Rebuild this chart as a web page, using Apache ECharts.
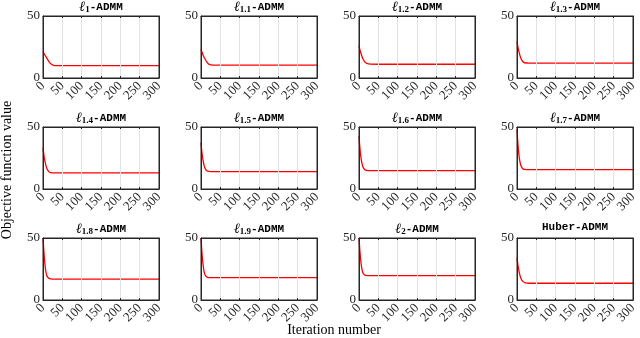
<!DOCTYPE html>
<html>
<head>
<meta charset="utf-8">
<script src="https://cdn.jsdelivr.net/npm/echarts@6/dist/echarts.min.js"></script>
<style>
  html, body { margin: 0; padding: 0; background: #fff; }
  #box { width: 640px; height: 338px; }
</style>
</head>
<body>
<div id="box"></div>
<script>
var iters = [0, 3, 6, 10, 15, 20, 30, 50, 300];

// subscript of each panel title ("" = Huber)
var names = ["1", "1.1", "1.2", "1.3", "1.4", "1.5", "1.6", "1.7", "1.8", "1.9", "2", ""];

var l1    = [21.3, 19.5, 18.0, 16.0, 13.5, 11.5, 10.0, 9.9, 9.9];
var l1_1  = [23.3, 20.5, 18.0, 15.5, 13.0, 11.2, 10.4, 10.4, 10.4];
var l1_2  = [26.0, 22.0, 19.0, 15.5, 13.0, 11.8, 11.2, 11.1, 11.1];
var l1_3  = [29.4, 24.0, 20.0, 16.0, 13.3, 12.3, 12.0, 12.0, 12.0];
var l1_4  = [33.4, 26.0, 21.0, 16.5, 14.0, 13.2, 13.0, 13.0, 13.0];
var l1_5  = [37.3, 28.0, 22.0, 17.0, 14.8, 14.2, 14.0, 14.0, 14.0];
var l1_6  = [42.7, 31.0, 23.5, 18.0, 15.5, 15.0, 14.8, 14.8, 14.8];
var l1_7  = [48.0, 34.0, 25.0, 19.0, 16.3, 15.8, 15.6, 15.6, 15.6];
var l1_8  = [50.0, 36.0, 26.0, 19.5, 17.5, 17.0, 16.8, 16.8, 16.8];
var l1_9  = [50.0, 36.0, 27.0, 20.5, 18.6, 18.1, 18.0, 18.0, 18.0];
var l2    = [50.0, 37.0, 28.0, 22.0, 20.2, 19.7, 19.6, 19.6, 19.6];
var huber = [33.8, 27.0, 22.0, 17.5, 15.0, 14.0, 13.5, 13.5, 13.5];

var allData = [l1, l1_1, l1_2, l1_3, l1_4, l1_5, l1_6, l1_7, l1_8, l1_9, l2, huber];

var xTicks = [0, 300, 50];   // min, max, interval
var yTicks = [0, 50];

var colLeft = [43, 201, 359, 517];
var rowTop = [16, 127, 238];
var pw = 116, ph = 62;

var chart = echarts.init(document.getElementById("box"));

var grids = [], xAxes = [], yAxes = [], series = [], titles = [];

function boxLine() {
  return { show: true, onZero: false, lineStyle: { color: "#262626", width: 1 } };
}
function ticks() {
  return { show: true, inside: true, length: 2, lineStyle: { color: "#262626" } };
}

for (let i = 0; i < 12; i++) {
  let c = i % 4, r = Math.floor(i / 4);
  grids.push({
    left: colLeft[c], top: rowTop[r], width: pw, height: ph,
    show: true, borderColor: "#262626", borderWidth: 1, backgroundColor: "transparent", z: 4
  });
  xAxes.push({
    type: "value", gridIndex: i, position: "bottom", min: xTicks[0], max: xTicks[1], interval: xTicks[2],
    axisLine: boxLine(), axisTick: ticks(), z: 5,
    axisLabel: { rotate: 45, margin: 6, color: "#262626", fontFamily: "Liberation Serif", fontSize: 13 },
    splitLine: { show: true, lineStyle: { color: "#e3e3e3", width: 1 } }
  });
  // top edge of the box
  xAxes.push({
    type: "value", gridIndex: i, position: "top", min: xTicks[0], max: xTicks[1], interval: xTicks[2],
    axisLine: boxLine(), axisTick: ticks(), z: 5,
    axisLabel: { show: false },
    splitLine: { show: false }
  });
  yAxes.push({
    type: "value", gridIndex: i, position: "left", min: yTicks[0], max: yTicks[1], interval: 50,
    axisLine: boxLine(), axisTick: { show: false }, z: 5,
    axisLabel: { margin: 3, color: "#262626", fontFamily: "Liberation Serif", fontSize: 13 },
    splitLine: { show: false }
  });
  // right edge of the box
  yAxes.push({
    type: "value", gridIndex: i, position: "right", min: yTicks[0], max: yTicks[1], interval: 50,
    axisLine: boxLine(), axisTick: { show: false }, z: 5,
    axisLabel: { show: false },
    splitLine: { show: false }
  });
  let pts = [];
  for (let k = 0; k < iters.length; k++) pts.push([iters[k], allData[i][k]]);
  series.push({
    type: "line", xAxisIndex: 2 * i, yAxisIndex: 2 * i, data: pts,
    smooth: 0.4, showSymbol: false, symbol: "none",
    lineStyle: { color: "#ff0000", width: 1.3 }, z: 3
  });
  let txt = names[i] ? "{l|ℓ}{s|" + names[i] + "}{m|-ADMM}" : "{m|Huber-ADMM}";
  titles.push({
    text: txt, left: colLeft[c] + pw / 2, top: rowTop[r] - 16, textAlign: "center", padding: 0,
    textStyle: {
      rich: {
        l: { fontFamily: "Liberation Serif", fontStyle: "italic", fontSize: 14, color: "#000" },
        s: { fontFamily: "Liberation Serif", fontSize: 9, color: "#000", verticalAlign: "bottom", padding: [5, 0, 0, 0] },
        m: { fontFamily: "Liberation Mono", fontWeight: "bold", fontSize: 11, color: "#000" }
      }
    }
  });
}

chart.setOption({
  animation: false,
  title: titles,
  grid: grids,
  xAxis: xAxes,
  yAxis: yAxes,
  series: series,
  graphic: [
    {
      type: "text", rotation: Math.PI / 2, x: 7, y: 170,
      style: { text: "Objective function value", font: "14px 'Liberation Serif'", fill: "#000", align: "center", verticalAlign: "middle" }
    },
    {
      type: "text", x: 334, y: 330,
      style: { text: "Iteration number", font: "14px 'Liberation Serif'", fill: "#000", align: "center", verticalAlign: "middle" }
    }
  ]
});
</script>
</body>
</html>
